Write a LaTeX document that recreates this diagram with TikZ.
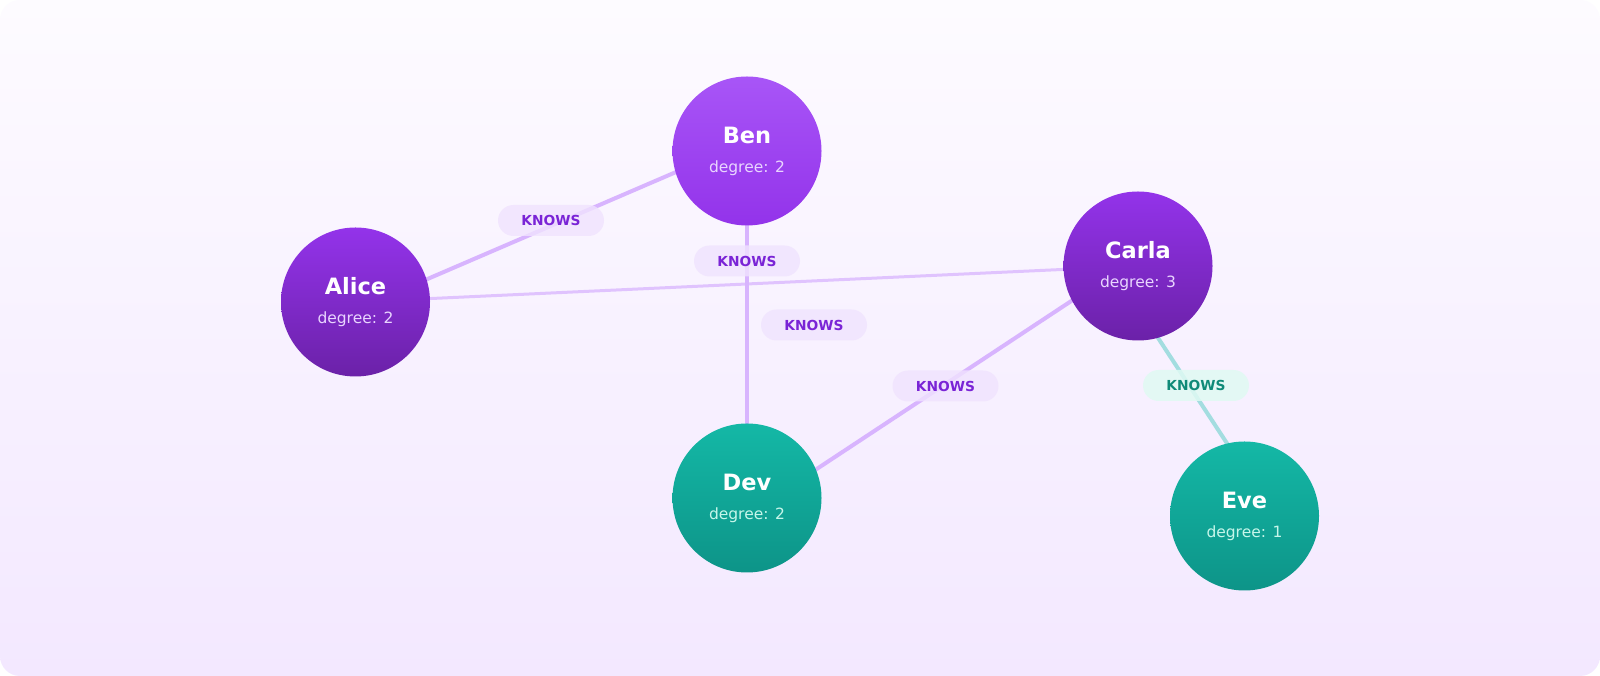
\documentclass[tikz,border=0pt]{standalone}
\usepackage{fontspec}
\setmainfont{DejaVu Sans}
\usetikzlibrary{calc}
\definecolor{bgtop}{HTML}{FDFBFF}
\definecolor{bgbot}{HTML}{F3E8FF}
\definecolor{bentop}{HTML}{A855F7}
\definecolor{benbot}{HTML}{9333EA}
\definecolor{ptop}{HTML}{9333EA}
\definecolor{pbot}{HTML}{6B21A8}
\definecolor{ttop}{HTML}{14B8A6}
\definecolor{tbot}{HTML}{0D9488}
\definecolor{pdeg}{HTML}{E9D5FF}
\definecolor{tdeg}{HTML}{C6F6EA}
\definecolor{pedge}{HTML}{D8B4FE}
\definecolor{tedge}{HTML}{A3DDE0}
\definecolor{plbl}{HTML}{7A24D6}
\definecolor{tlbl}{HTML}{0F8A78}
\definecolor{ppill}{HTML}{F0E3FE}
\definecolor{tpill}{HTML}{E0FAF3}
\pgfdeclarelayer{edgelayer}
\pgfdeclarelayer{bglayer}
\pgfsetlayers{bglayer,edgelayer,main}
\tikzset{
  gnode/.style={circle, minimum size=149pt, inner sep=0pt, draw=none},
  benfill/.style={top color=bentop, bottom color=benbot},
  purfill/.style={top color=ptop, bottom color=pbot},
  tealfill/.style={top color=ttop, bottom color=tbot},
  nametxt/.style={anchor=base, text=white, font=\bfseries\fontsize{22.5}{26}\selectfont, inner sep=0pt},
  degtxt/.style={anchor=base, font=\fontsize{15.5}{18}\selectfont, inner sep=0pt},
  pedgeline/.style={draw=pedge, line width=4pt},
  pedgelight/.style={draw=pedge, line width=3pt, draw opacity=0.75},
  tedgeline/.style={draw=tedge, line width=4pt},
  pill/.style={rounded corners=15.5pt, minimum width=106pt, minimum height=31pt, inner sep=0pt, font=\bfseries\fontsize{13.8}{16}\selectfont},
  ppillst/.style={pill, fill=ppill, fill opacity=0.8, text opacity=1, text=plbl},
  tpillst/.style={pill, fill=tpill, fill opacity=0.85, text opacity=1, text=tlbl},
}
\begin{document}
\begin{tikzpicture}[x=1pt,y=1pt]
\useasboundingbox (0,0) rectangle (1600,676);
\begin{pgfonlayer}{bglayer}
\fill[white] (0,0) rectangle (1600,676);
\shade[top color=bgtop, bottom color=bgbot, rounded corners=20pt] (0,0) rectangle (1600,676);
\end{pgfonlayer}

\node[gnode, benfill] (ben) at (747,525) {};
\node[gnode, purfill] (alice) at (355.5,374) {};
\node[gnode, purfill] (carla) at (1138,410) {};
\node[gnode, tealfill] (dev) at (747,178) {};
\node[gnode, tealfill] (eve) at (1244.5,160) {};

\node[nametxt] (benN) at ($(ben.center)+(0,7.5)$) {Ben};
\node[degtxt, text=pdeg] (benD) at ($(ben.center)+(0,-22)$) {degree: 2};
\node[nametxt] (aliceN) at ($(alice.center)+(0,7.5)$) {Alice};
\node[degtxt, text=pdeg] (aliceD) at ($(alice.center)+(0,-22)$) {degree: 2};
\node[nametxt] (carlaN) at ($(carla.center)+(0,7.5)$) {Carla};
\node[degtxt, text=pdeg] (carlaD) at ($(carla.center)+(0,-22)$) {degree: 3};
\node[nametxt] (devN) at ($(dev.center)+(0,7.5)$) {Dev};
\node[degtxt, text=tdeg] (devD) at ($(dev.center)+(0,-22)$) {degree: 2};
\node[nametxt] (eveN) at ($(eve.center)+(0,7.5)$) {Eve};
\node[degtxt, text=tdeg] (eveD) at ($(eve.center)+(0,-22)$) {degree: 1};

\begin{pgfonlayer}{edgelayer}
\draw[pedgeline] ($(alice.center)+(0,-8)$) -- ($(ben.center)+(0,9.5)$);
\draw[pedgelight] (alice.center) -- (carla.center);
\draw[pedgeline] (ben.center) -- (dev.center);
\draw[pedgeline] ($(carla.center)+(0,9)$) -- ($(dev.center)+(0,-17)$);
\draw[tedgeline] ($(carla.center)+(-27,0)$) -- ($(eve.center)+(30,0)$);
\end{pgfonlayer}

\node[ppillst] (l1) at (551,455.5) {KNOWS};
\node[ppillst] (l2) at (747,415) {KNOWS};
\node[ppillst] (l3) at (814,351) {KNOWS};
\node[ppillst] (l4) at (945.5,290) {KNOWS};
\node[tpillst] (l5) at (1196,290.5) {KNOWS};
\end{tikzpicture}
\end{document}
